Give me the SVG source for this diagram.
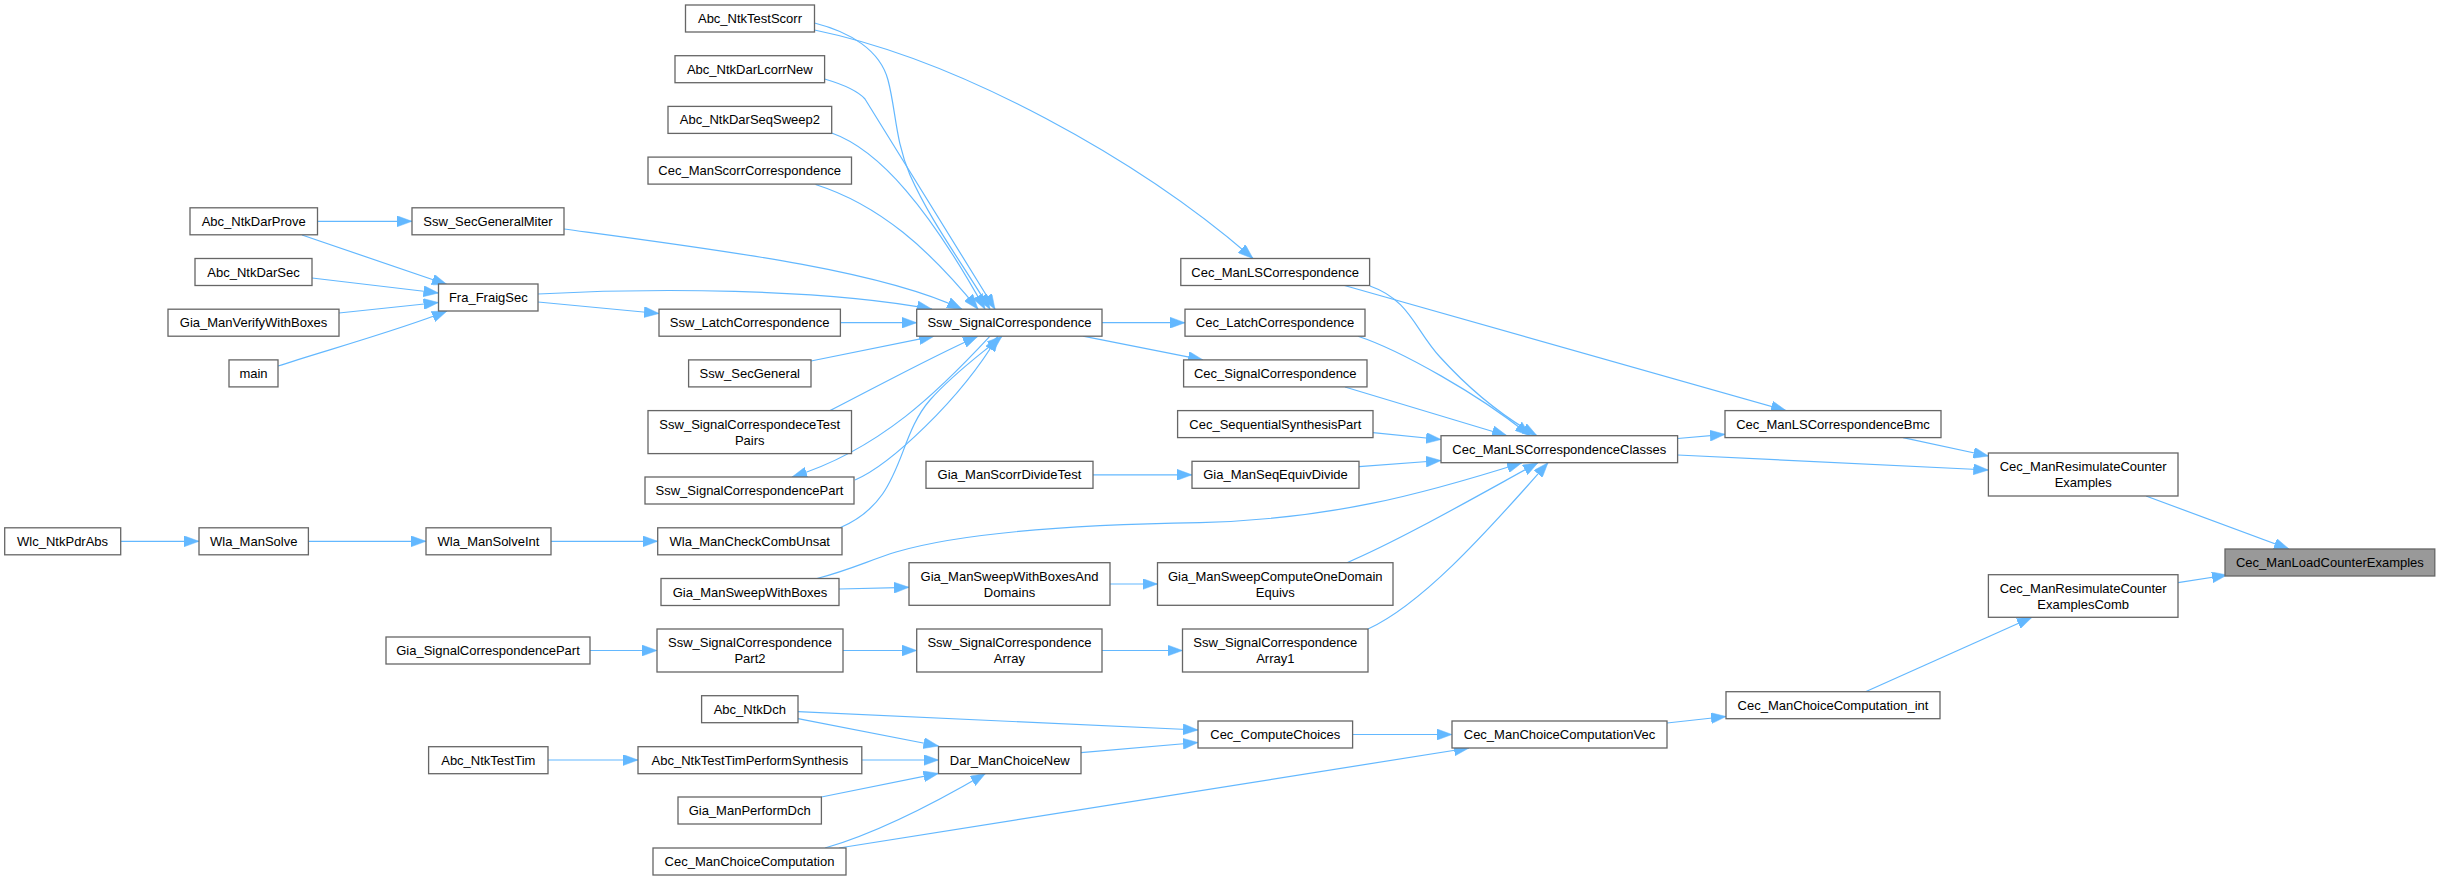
<svg xmlns="http://www.w3.org/2000/svg" width="2441" height="880" viewBox="0 0 2441 880">
<style>
.n rect{fill:#ffffff;stroke:#666666;stroke-width:1.3}
.n.hl rect{fill:#999999}
.n text{font-family:"Liberation Sans",Arial,sans-serif;font-size:13px;fill:#000000;text-anchor:middle}
.e path{fill:none;stroke:#63b8ff;stroke-width:1.2;marker-end:url(#ah)}
</style>
<defs>
<marker id="ah" markerUnits="userSpaceOnUse" viewBox="0 0 15 11" markerWidth="15" markerHeight="11" refX="15" refY="5.5" orient="auto">
<path d="M0,0 L15,5.5 L0,11 z" fill="#63b8ff" stroke="#63b8ff" stroke-width="0.5"/>
</marker>
</defs>
<rect width="2441" height="880" fill="#ffffff"/>
<g id="edges" class="e">
<path d="M317.5,221.3 L412,221.3"/>
<path d="M302,235 L447,284.5"/>
<path d="M312,278 L438.5,293"/>
<path d="M339,313 L438.5,302.5"/>
<path d="M278,366 C320,352 400,330 447,311"/>
<path d="M564,229 C720,250 880,270 962,309.2"/>
<path d="M538,294 C650,288 820,288 932,309.2"/>
<path d="M538,302 L659,313.5"/>
<path d="M840.4,322.7 L916.7,322.7"/>
<path d="M814.5,23 C850,32 880,50 888,80 C896,110 895,140 910,175 C930,220 960,260 990,309.2"/>
<path d="M824.6,79 C845,85 858,91 865,99 L995,309.2"/>
<path d="M831.7,133 C880,150 930,210 985,309.2"/>
<path d="M815.5,184.5 C880,205 930,250 978,309.2"/>
<path d="M811,361 L934,336.2"/>
<path d="M830,410.6 C880,385 935,355 978,336.2"/>
<path d="M990,336.2 C940,390 880,450 792,477"/>
<path d="M855,480 C890,465 960,400 998,336.2"/>
<path d="M840,527.8 C905,500 895,440 930,400 C955,372 980,355 1002,336.2"/>
<path d="M814.5,30 C960,60 1140,160 1253,258.5"/>
<path d="M1102,322.7 L1185,322.7"/>
<path d="M1083,336.2 L1203,359.9"/>
<path d="M1370,286 C1410,300 1415,330 1440,357 C1470,390 1500,415 1537,435.7"/>
<path d="M1344.5,285.5 L1786,410.6"/>
<path d="M1358,336.2 C1400,350 1480,395 1530,435.7"/>
<path d="M1345,387 L1507,435.7"/>
<path d="M1373,432.7 L1441,439.5"/>
<path d="M1359,466.7 L1441,460.5"/>
<path d="M817,578.5 C850,570 870,560 896,552 C950,536 1050,525 1200,522.7 C1330,519 1420,495 1522,462.7"/>
<path d="M1347,562.7 C1400,540 1470,500 1538,462.7"/>
<path d="M1368,629 C1420,605 1480,540 1548,462.7"/>
<path d="M1677.6,438.5 L1725,434.3"/>
<path d="M1677.6,455 L1988.4,470"/>
<path d="M1903,437.6 L1988.4,456"/>
<path d="M2146,496 L2289,549"/>
<path d="M2178,582.7 L2227,575"/>
<path d="M1865.5,691.7 L2032,617.3"/>
<path d="M1667,723 L1726,716.5"/>
<path d="M1352.6,734.5 L1452,734.5"/>
<path d="M839,848 L1469,748"/>
<path d="M825,848 C880,832 940,800 985.5,773.4"/>
<path d="M1081,752.7 L1198,742.5"/>
<path d="M798,711.7 L1198,730"/>
<path d="M798,718.7 L938.5,746"/>
<path d="M861.8,760 L938.5,760"/>
<path d="M821.4,797 L938.5,773.4"/>
<path d="M548,760 L638,760"/>
<path d="M1093,474.8 L1192,474.8"/>
<path d="M839,589 L909,587.3"/>
<path d="M1110,584 L1157.5,584"/>
<path d="M590,650.5 L657,650.5"/>
<path d="M843,650.5 L916.7,650.5"/>
<path d="M1102,650.5 L1182.5,650.5"/>
<path d="M120.6,541.3 L199,541.3"/>
<path d="M308.4,541.3 L426,541.3"/>
<path d="M551,541.3 L657.7,541.3"/>
</g>
<g id="Wlc_NtkPdrAbs" class="n"><rect x="4.7" y="527.8" width="116" height="27"/><text x="62.6" y="545.8">Wlc_NtkPdrAbs</text></g>
<g id="Wla_ManSolve" class="n"><rect x="199" y="527.8" width="109.4" height="27"/><text x="253.7" y="545.8">Wla_ManSolve</text></g>
<g id="Wla_ManSolveInt" class="n"><rect x="426" y="527.8" width="125" height="27"/><text x="488.5" y="545.8">Wla_ManSolveInt</text></g>
<g id="Abc_NtkDarProve" class="n"><rect x="190" y="207.8" width="127.5" height="27"/><text x="253.7" y="225.8">Abc_NtkDarProve</text></g>
<g id="Abc_NtkDarSec" class="n"><rect x="195" y="258.5" width="117" height="27"/><text x="253.5" y="276.5">Abc_NtkDarSec</text></g>
<g id="Gia_ManVerifyWithBoxes" class="n"><rect x="168" y="309.2" width="171" height="27"/><text x="253.5" y="327.2">Gia_ManVerifyWithBoxes</text></g>
<g id="main" class="n"><rect x="229" y="359.9" width="49" height="27"/><text x="253.5" y="377.9">main</text></g>
<g id="Ssw_SecGeneralMiter" class="n"><rect x="412" y="207.8" width="152" height="27"/><text x="488" y="225.8">Ssw_SecGeneralMiter</text></g>
<g id="Fra_FraigSec" class="n"><rect x="438.5" y="284" width="99.5" height="27"/><text x="488.3" y="302">Fra_FraigSec</text></g>
<g id="Gia_SignalCorrespondencePart" class="n"><rect x="386" y="637" width="204" height="27"/><text x="488" y="655">Gia_SignalCorrespondencePart</text></g>
<g id="Abc_NtkTestTim" class="n"><rect x="428.6" y="746.7" width="119.4" height="27"/><text x="488.3" y="764.7">Abc_NtkTestTim</text></g>
<g id="Abc_NtkTestScorr" class="n"><rect x="685.5" y="5" width="129" height="27"/><text x="750" y="23">Abc_NtkTestScorr</text></g>
<g id="Abc_NtkDarLcorrNew" class="n"><rect x="675" y="55.7" width="149.6" height="27"/><text x="749.8" y="73.7">Abc_NtkDarLcorrNew</text></g>
<g id="Abc_NtkDarSeqSweep2" class="n"><rect x="668" y="106.4" width="163.7" height="27"/><text x="749.9" y="124.4">Abc_NtkDarSeqSweep2</text></g>
<g id="Cec_ManScorrCorrespondence" class="n"><rect x="648" y="157.1" width="203.5" height="27"/><text x="749.7" y="175.1">Cec_ManScorrCorrespondence</text></g>
<g id="Ssw_LatchCorrespondence" class="n"><rect x="659" y="309.2" width="181.4" height="27"/><text x="749.7" y="327.2">Ssw_LatchCorrespondence</text></g>
<g id="Ssw_SecGeneral" class="n"><rect x="688.6" y="359.9" width="122.4" height="27"/><text x="749.8" y="377.9">Ssw_SecGeneral</text></g>
<g id="Ssw_SignalCorrespondeceTestPairs" class="n"><rect x="648" y="410.6" width="203.5" height="43"/><text x="749.7" y="428.6">Ssw_SignalCorrespondeceTest</text><text x="749.7" y="444.6">Pairs</text></g>
<g id="Ssw_SignalCorrespondencePart" class="n"><rect x="645" y="477" width="209" height="27"/><text x="749.5" y="495">Ssw_SignalCorrespondencePart</text></g>
<g id="Wla_ManCheckCombUnsat" class="n"><rect x="657.7" y="527.8" width="184.3" height="27"/><text x="749.8" y="545.8">Wla_ManCheckCombUnsat</text></g>
<g id="Gia_ManSweepWithBoxes" class="n"><rect x="661" y="578.5" width="178" height="27"/><text x="750" y="596.5">Gia_ManSweepWithBoxes</text></g>
<g id="Ssw_SignalCorrespondencePart2" class="n"><rect x="657" y="629" width="186" height="43"/><text x="750" y="647">Ssw_SignalCorrespondence</text><text x="750" y="663">Part2</text></g>
<g id="Abc_NtkDch" class="n"><rect x="701.6" y="695.7" width="96.4" height="27"/><text x="749.8" y="713.7">Abc_NtkDch</text></g>
<g id="Abc_NtkTestTimPerformSynthesis" class="n"><rect x="638" y="746.7" width="223.8" height="27"/><text x="749.9" y="764.7">Abc_NtkTestTimPerformSynthesis</text></g>
<g id="Gia_ManPerformDch" class="n"><rect x="678" y="797" width="143.4" height="27"/><text x="749.7" y="815">Gia_ManPerformDch</text></g>
<g id="Cec_ManChoiceComputation" class="n"><rect x="653" y="848" width="193" height="27"/><text x="749.5" y="866">Cec_ManChoiceComputation</text></g>
<g id="Ssw_SignalCorrespondence" class="n"><rect x="916.7" y="309.2" width="185.3" height="27"/><text x="1009.4" y="327.2">Ssw_SignalCorrespondence</text></g>
<g id="Gia_ManScorrDivideTest" class="n"><rect x="926" y="461.3" width="167" height="27"/><text x="1009.5" y="479.3">Gia_ManScorrDivideTest</text></g>
<g id="Gia_ManSweepWithBoxesAndDomains" class="n"><rect x="909" y="562.7" width="201" height="42.6"/><text x="1009.5" y="580.7">Gia_ManSweepWithBoxesAnd</text><text x="1009.5" y="596.7">Domains</text></g>
<g id="Ssw_SignalCorrespondenceArray" class="n"><rect x="916.7" y="629" width="185.3" height="43"/><text x="1009.4" y="647">Ssw_SignalCorrespondence</text><text x="1009.4" y="663">Array</text></g>
<g id="Dar_ManChoiceNew" class="n"><rect x="938.5" y="746.7" width="142.5" height="27"/><text x="1009.8" y="764.7">Dar_ManChoiceNew</text></g>
<g id="Cec_ManLSCorrespondence" class="n"><rect x="1180.8" y="258.5" width="188.8" height="27"/><text x="1275.2" y="276.5">Cec_ManLSCorrespondence</text></g>
<g id="Cec_LatchCorrespondence" class="n"><rect x="1185" y="309.2" width="180" height="27"/><text x="1275" y="327.2">Cec_LatchCorrespondence</text></g>
<g id="Cec_SignalCorrespondence" class="n"><rect x="1183.6" y="359.9" width="183.4" height="27"/><text x="1275.3" y="377.9">Cec_SignalCorrespondence</text></g>
<g id="Cec_SequentialSynthesisPart" class="n"><rect x="1177.6" y="410.6" width="195.4" height="27"/><text x="1275.3" y="428.6">Cec_SequentialSynthesisPart</text></g>
<g id="Gia_ManSeqEquivDivide" class="n"><rect x="1192" y="461.3" width="167" height="27"/><text x="1275.5" y="479.3">Gia_ManSeqEquivDivide</text></g>
<g id="Gia_ManSweepComputeOneDomainEquivs" class="n"><rect x="1157.5" y="562.7" width="235.5" height="42.6"/><text x="1275.3" y="580.7">Gia_ManSweepComputeOneDomain</text><text x="1275.3" y="596.7">Equivs</text></g>
<g id="Ssw_SignalCorrespondenceArray1" class="n"><rect x="1182.5" y="629" width="185.5" height="43"/><text x="1275.3" y="647">Ssw_SignalCorrespondence</text><text x="1275.3" y="663">Array1</text></g>
<g id="Cec_ComputeChoices" class="n"><rect x="1198" y="721" width="154.6" height="27"/><text x="1275.3" y="739">Cec_ComputeChoices</text></g>
<g id="Cec_ManLSCorrespondenceClasses" class="n"><rect x="1441" y="435.7" width="236.6" height="27"/><text x="1559.3" y="453.7">Cec_ManLSCorrespondenceClasses</text></g>
<g id="Cec_ManChoiceComputationVec" class="n"><rect x="1452" y="721" width="215" height="27"/><text x="1559.5" y="739">Cec_ManChoiceComputationVec</text></g>
<g id="Cec_ManLSCorrespondenceBmc" class="n"><rect x="1725" y="410.6" width="216" height="27"/><text x="1833" y="428.6">Cec_ManLSCorrespondenceBmc</text></g>
<g id="Cec_ManChoiceComputation_int" class="n"><rect x="1726" y="691.7" width="214" height="27"/><text x="1833" y="709.7">Cec_ManChoiceComputation_int</text></g>
<g id="Cec_ManResimulateCounterExamples" class="n"><rect x="1988.4" y="453" width="189.6" height="43"/><text x="2083.2" y="471">Cec_ManResimulateCounter</text><text x="2083.2" y="487">Examples</text></g>
<g id="Cec_ManResimulateCounterExamplesComb" class="n"><rect x="1988.4" y="574.7" width="189.6" height="42.6"/><text x="2083.2" y="592.7">Cec_ManResimulateCounter</text><text x="2083.2" y="608.7">ExamplesComb</text></g>
<g id="Cec_ManLoadCounterExamples" class="n hl"><rect x="2225" y="549" width="209.8" height="27"/><text x="2329.9" y="567">Cec_ManLoadCounterExamples</text></g>
</svg>
